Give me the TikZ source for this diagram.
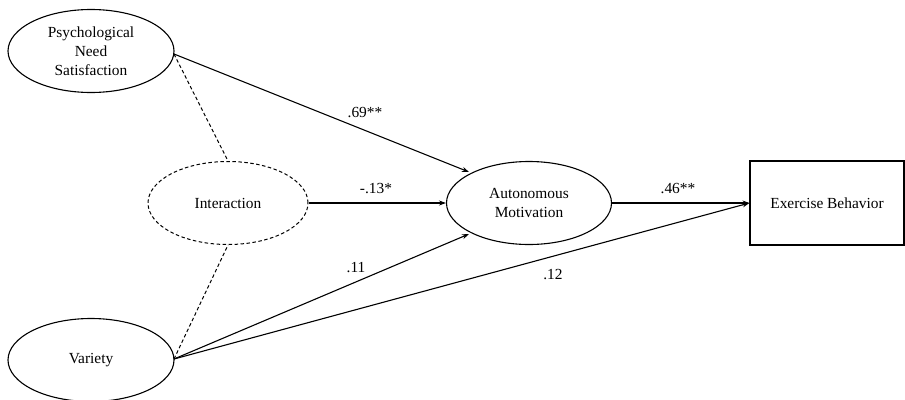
\documentclass[tikz,border=0pt]{standalone}
\usepackage{fontspec}
\setmainfont{Liberation Serif}
\usetikzlibrary{shapes.geometric,arrows.meta}
\begin{document}
\begin{tikzpicture}[x=1pt,y=-1pt,
  lat/.style={draw,line width=1.1pt,ellipse,minimum width=#1,minimum height=83pt,inner sep=0pt,align=center,font=\fontsize{15.4}{19}\selectfont},
  lat/.default=166pt,
  obs/.style={draw,line width=1.2pt,minimum width=154pt,minimum height=84pt,inner sep=0pt,align=center,font=\fontsize{15.4}{19}\selectfont},
  path/.style={line width=1.1pt,-{Stealth[length=7pt,width=5pt]}},
  cov/.style={line width=1pt,dash pattern=on 3.5pt off 2.5pt},
  lab/.style={font=\fontsize{15.4}{18}\selectfont,inner sep=0pt}]
\useasboundingbox (0,0) rectangle (905,399);
\node[lat] (psy) at (91,51) {Psychological\\Need\\Satisfaction};
\node[lat=160pt,dash pattern=on 3.5pt off 2.5pt,line width=1pt] (int) at (228,203) {Interaction};
\node[lat] (var) at (91,360) {Variety};
\node[lat=165pt] (aut) at (529,203) {Autonomous\\Motivation};
\node[obs] (exb) at (827,203) {Exercise Behavior};
\coordinate (psyR) at (174,54);
\coordinate (varR) at (174,359);
\coordinate (autUL) at (469,172);
\coordinate (autLL) at (469,234);
\draw[path] (psyR) -- (autUL);
\draw[path] (int.east) -- (aut.west);
\draw[path] (varR) -- (autLL);
\draw[path] (varR) -- (exb.west);
\draw[path] (aut.east) -- (exb.west);
\draw[cov] (psyR) -- (int.north);
\draw[cov] (varR) -- (int.south);
\node[lab] (l1) at (365,113) {.69**};
\node[lab] (l2) at (376,189) {-.13*};
\node[lab] (l3) at (356,268) {.11};
\node[lab] (l4) at (553,275) {.12};
\node[lab] (l5) at (678,189) {.46**};
\end{tikzpicture}
\end{document}
